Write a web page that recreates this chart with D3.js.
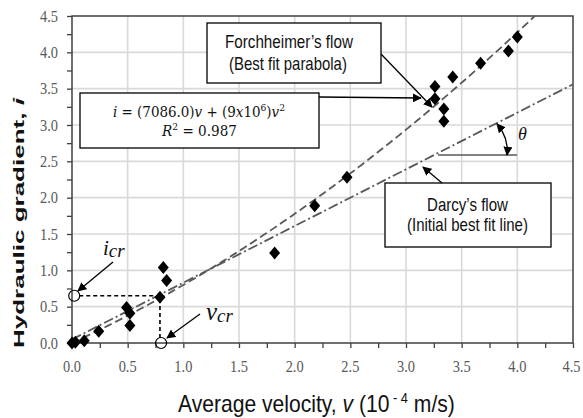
<!DOCTYPE html>
<html><head><meta charset="utf-8">
<script src="https://cdn.jsdelivr.net/npm/d3@7"></script>
<style>body{margin:0;background:#fff}svg{display:block}</style>
</head><body><svg id="c" width="583" height="418"></svg>
<script>
// ---- data ----
const velocity = [0.00,0.03,0.11,0.24,0.49,0.52,0.52,0.79,0.82,0.85,1.82,2.18,2.47,3.26,3.26,3.34,3.34,3.42,3.67,3.92,4.00];
const gradient = [0.00,0.01,0.03,0.16,0.49,0.41,0.24,0.63,1.04,0.86,1.24,1.89,2.28,3.53,3.36,3.22,3.05,3.66,3.85,4.02,4.21];
const xTicks = [0,0.5,1,1.5,2,2.5,3,3.5,4,4.5];
const yTicks = [0,0.5,1,1.5,2,2.5,3,3.5,4,4.5];
const forchA = 0.7086, forchB = 0.09;       // i = 7086 v + 9e6 v^2 (v in 1e-4 m/s)
const darcyIntercept = 0.05, darcySlope = 0.78;
const critV = 0.79, critI = 0.65;

const svg = d3.select('#c');
const L = 72, T = 16, W = 501, H = 327;
const x = d3.scaleLinear().domain([0,4.5]).range([L, L+W]);
const y = d3.scaleLinear().domain([0,4.5]).range([T+H, T]);
const grey = '#595959';
const serif = 'Liberation Serif, Times New Roman, serif';
const sans = 'Liberation Sans, Arial, sans-serif';

// squeeze a text horizontally (in its own frame) to a target width, anchored at its left edge
function fit(sel, target){
  const node = sel.node(); const w = node.getComputedTextLength();
  const x0 = +sel.attr('x') || 0; const k = target / w;
  sel.attr('transform', (sel.attr('transform')||'') + ` translate(${x0},0) scale(${k},1) translate(${-x0},0)`);
}

// grid
svg.append('g').selectAll('line').data(xTicks.slice(1,-1)).join('line')
  .attr('x1',d=>x(d)).attr('x2',d=>x(d)).attr('y1',T).attr('y2',T+H)
  .attr('stroke','#d9d9d9').attr('stroke-width',1.6);
svg.append('g').selectAll('line').data(yTicks.slice(1,-1)).join('line')
  .attr('y1',d=>y(d)).attr('y2',d=>y(d)).attr('x1',L).attr('x2',L+W)
  .attr('stroke','#d9d9d9').attr('stroke-width',1.6);

// axes
const minor = d3.range(0,4.51,0.25);
const xa = svg.append('g').attr('transform',`translate(0,${T+H})`)
  .call(d3.axisBottom(x).tickValues(minor).tickSize(5).tickFormat(''));
const ya = svg.append('g').attr('transform',`translate(${L},0)`)
  .call(d3.axisLeft(y).tickValues(minor).tickSize(5).tickFormat(''));
[xa,ya].forEach(a=>{a.select('.domain').remove(); a.selectAll('line').attr('stroke','#404040').attr('stroke-width',1.3);});
svg.append('rect').attr('x',L).attr('y',T).attr('width',W).attr('height',H)
  .attr('fill','none').attr('stroke','#404040').attr('stroke-width',1.5);

svg.append('g').selectAll('text').data(xTicks).join('text')
  .attr('x',d=>x(d) - (d===4.5?1.5:0)).attr('y',T+H+29).attr('text-anchor','middle')
  .attr('font-family',serif).attr('font-size',17).attr('fill',grey)
  .attr('textLength',18).attr('lengthAdjust','spacingAndGlyphs')
  .text(d=>d3.format('.1f')(d));
svg.append('g').selectAll('text').data(yTicks).join('text')
  .attr('x',L-14).attr('y',d=>y(d)+5.5).attr('text-anchor','end')
  .attr('font-family',serif).attr('font-size',17).attr('fill',grey)
  .attr('textLength',18).attr('lengthAdjust','spacingAndGlyphs')
  .text(d=>d3.format('.1f')(d));

// titles
const ytg = svg.append('g').attr('transform','translate(24,348) rotate(-90)');
const yt = ytg.append('text').attr('x',0).attr('y',0)
  .attr('font-family',sans).attr('font-weight','bold').attr('font-size',15).attr('fill','#111');
yt.append('tspan').text('Hydraulic gradient, ');
yt.append('tspan').attr('font-style','italic').text('i');
fit(yt, 250);

const xt = svg.append('text').attr('x',178).attr('y',412.5)
  .attr('font-family',sans).attr('font-size',23).attr('fill','#111');
xt.append('tspan').text('Average velocity, ');
xt.append('tspan').attr('font-style','italic').text('v');
xt.append('tspan').text(' (10');
xt.append('tspan').attr('font-size',14).attr('dy',-9).text(' - 4');
xt.append('tspan').attr('dy',9).text(' m/s)');
fit(xt, 277);

// clip
svg.append('clipPath').attr('id','pc').append('rect').attr('x',L).attr('y',T).attr('width',W).attr('height',H);

// fit lines
const vs = d3.range(0,4.5001,0.02);
const line = d3.line().x(d=>x(d[0])).y(d=>y(d[1]));
svg.append('path').attr('clip-path','url(#pc)')
  .attr('d', line(vs.map(v=>[v, forchA*v + forchB*v*v])))
  .attr('fill','none').attr('stroke',grey).attr('stroke-width',1.8).attr('stroke-dasharray','8,4');
svg.append('path').attr('clip-path','url(#pc)')
  .attr('d', line([0,4.5].map(v=>[v, darcyIntercept + darcySlope*v])))
  .attr('fill','none').attr('stroke',grey).attr('stroke-width',1.8).attr('stroke-dasharray','10,3,2,3');

// points
const dia = 'M0,-6.5L5.5,0L0,6.5L-5.5,0Z';
svg.append('g').selectAll('path').data(velocity.map((v,k)=>[v,gradient[k]])).join('path')
  .attr('d',dia).attr('transform',d=>`translate(${x(d[0])},${y(d[1])})`).attr('fill','#000');

// critical point marks
svg.append('path').attr('d',`M${x(0.02)+5},${y(critI)}H${x(critV)}V${y(0)-5}`)
  .attr('fill','none').attr('stroke','#000').attr('stroke-width',1.6).attr('stroke-dasharray','4,3');
[[0.02,critI],[0.8,0]].forEach(p=>svg.append('circle').attr('cx',x(p[0])).attr('cy',y(p[1])).attr('r',5.5)
  .attr('fill','none').attr('stroke','#000').attr('stroke-width',1.2));

// arrowheads
const defs = svg.append('defs');
defs.append('marker').attr('id','ah').attr('viewBox','0 0 10 10').attr('refX',9).attr('refY',5)
  .attr('markerWidth',7).attr('markerHeight',7).attr('orient','auto-start-reverse')
  .append('path').attr('d','M0,0L10,5L0,10Z').attr('fill','#000');
function arrow(x1,y1,x2,y2,w){svg.append('line').attr('x1',x1).attr('y1',y1).attr('x2',x2).attr('y2',y2)
  .attr('stroke','#000').attr('stroke-width',w||1.3).attr('marker-end','url(#ah)');}

// boxes
function box(x0,y0,x1,y1){svg.append('rect').attr('x',x0).attr('y',y0).attr('width',x1-x0).attr('height',y1-y0)
  .attr('fill','#fff').attr('stroke','#000').attr('stroke-width',1.3);}

arrow(319,97,421,98);
arrow(381,54,432,107);
box(80,93,319,148);
box(207,23,381,83);
box(385,183,551,247);

// equation
const e1 = svg.append('text').attr('x',113).attr('y',117).attr('font-family','DejaVu Serif, serif')
  .attr('font-size',14).attr('fill','#111');
e1.append('tspan').attr('font-style','italic').text('i');
e1.append('tspan').text(' = (7086.0)');
e1.append('tspan').attr('font-style','italic').text('v');
e1.append('tspan').text(' + (9');
e1.append('tspan').attr('font-style','italic').text('x');
e1.append('tspan').text('10');
e1.append('tspan').attr('font-size',9.5).attr('dy',-6).text('6');
e1.append('tspan').attr('dy',6).text(')');
e1.append('tspan').attr('font-style','italic').text('v');
e1.append('tspan').attr('font-size',9.5).attr('dy',-6).text('2');
fit(e1, 172);
const e2 = svg.append('text').attr('x',162).attr('y',136).attr('font-family','DejaVu Serif, serif')
  .attr('font-size',14).attr('fill','#111');
e2.append('tspan').attr('font-style','italic').text('R');
e2.append('tspan').attr('font-size',9.5).attr('dy',-6).text('2');
e2.append('tspan').attr('dy',6).text(' = 0.987');
fit(e2, 75);

[['Forchheimer\u2019s flow',225,48.5,128],['(Best fit parabola)',229,70,118],
 ['Darcy\u2019s flow',427,211.5,81],['(Initial best fit line)',407,231.5,121]].forEach(t=>{
  const s = svg.append('text').attr('x',t[1]).attr('y',t[2]).attr('font-family',sans)
    .attr('font-size',18).attr('fill','#111').text(t[0]);
  fit(s, t[3]);
});

// Darcy arrow + theta
arrow(442,183,423,167);
svg.append('line').attr('x1',438).attr('y1',155).attr('x2',517).attr('y2',155).attr('stroke',grey).attr('stroke-width',1.5);
svg.append('path').attr('d','M497,124 Q509,138 507,155').attr('fill','none').attr('stroke','#000')
  .attr('stroke-width',1.3).attr('marker-end','url(#ah)').attr('marker-start','url(#ah)');
svg.append('text').attr('x',518).attr('y',140).attr('font-family',serif)
  .attr('font-style','italic').attr('font-size',18).attr('fill','#111').text('\u03b8');

// critical labels
arrow(113,262,78,291);
arrow(200,314,167,338);
const ic = svg.append('text').attr('x',103).attr('y',255).attr('font-family',serif)
  .attr('font-style','italic').attr('font-size',21).attr('fill','#111');
ic.append('tspan').text('i');
ic.append('tspan').attr('font-size',19).attr('dy',2).text('cr');
const vc = svg.append('text').attr('x',206).attr('y',320).attr('font-family',serif)
  .attr('font-style','italic').attr('font-size',25).attr('fill','#111');
vc.append('tspan').text('v');
vc.append('tspan').attr('font-size',19).attr('dy',2).text('cr');
</script></body></html>
